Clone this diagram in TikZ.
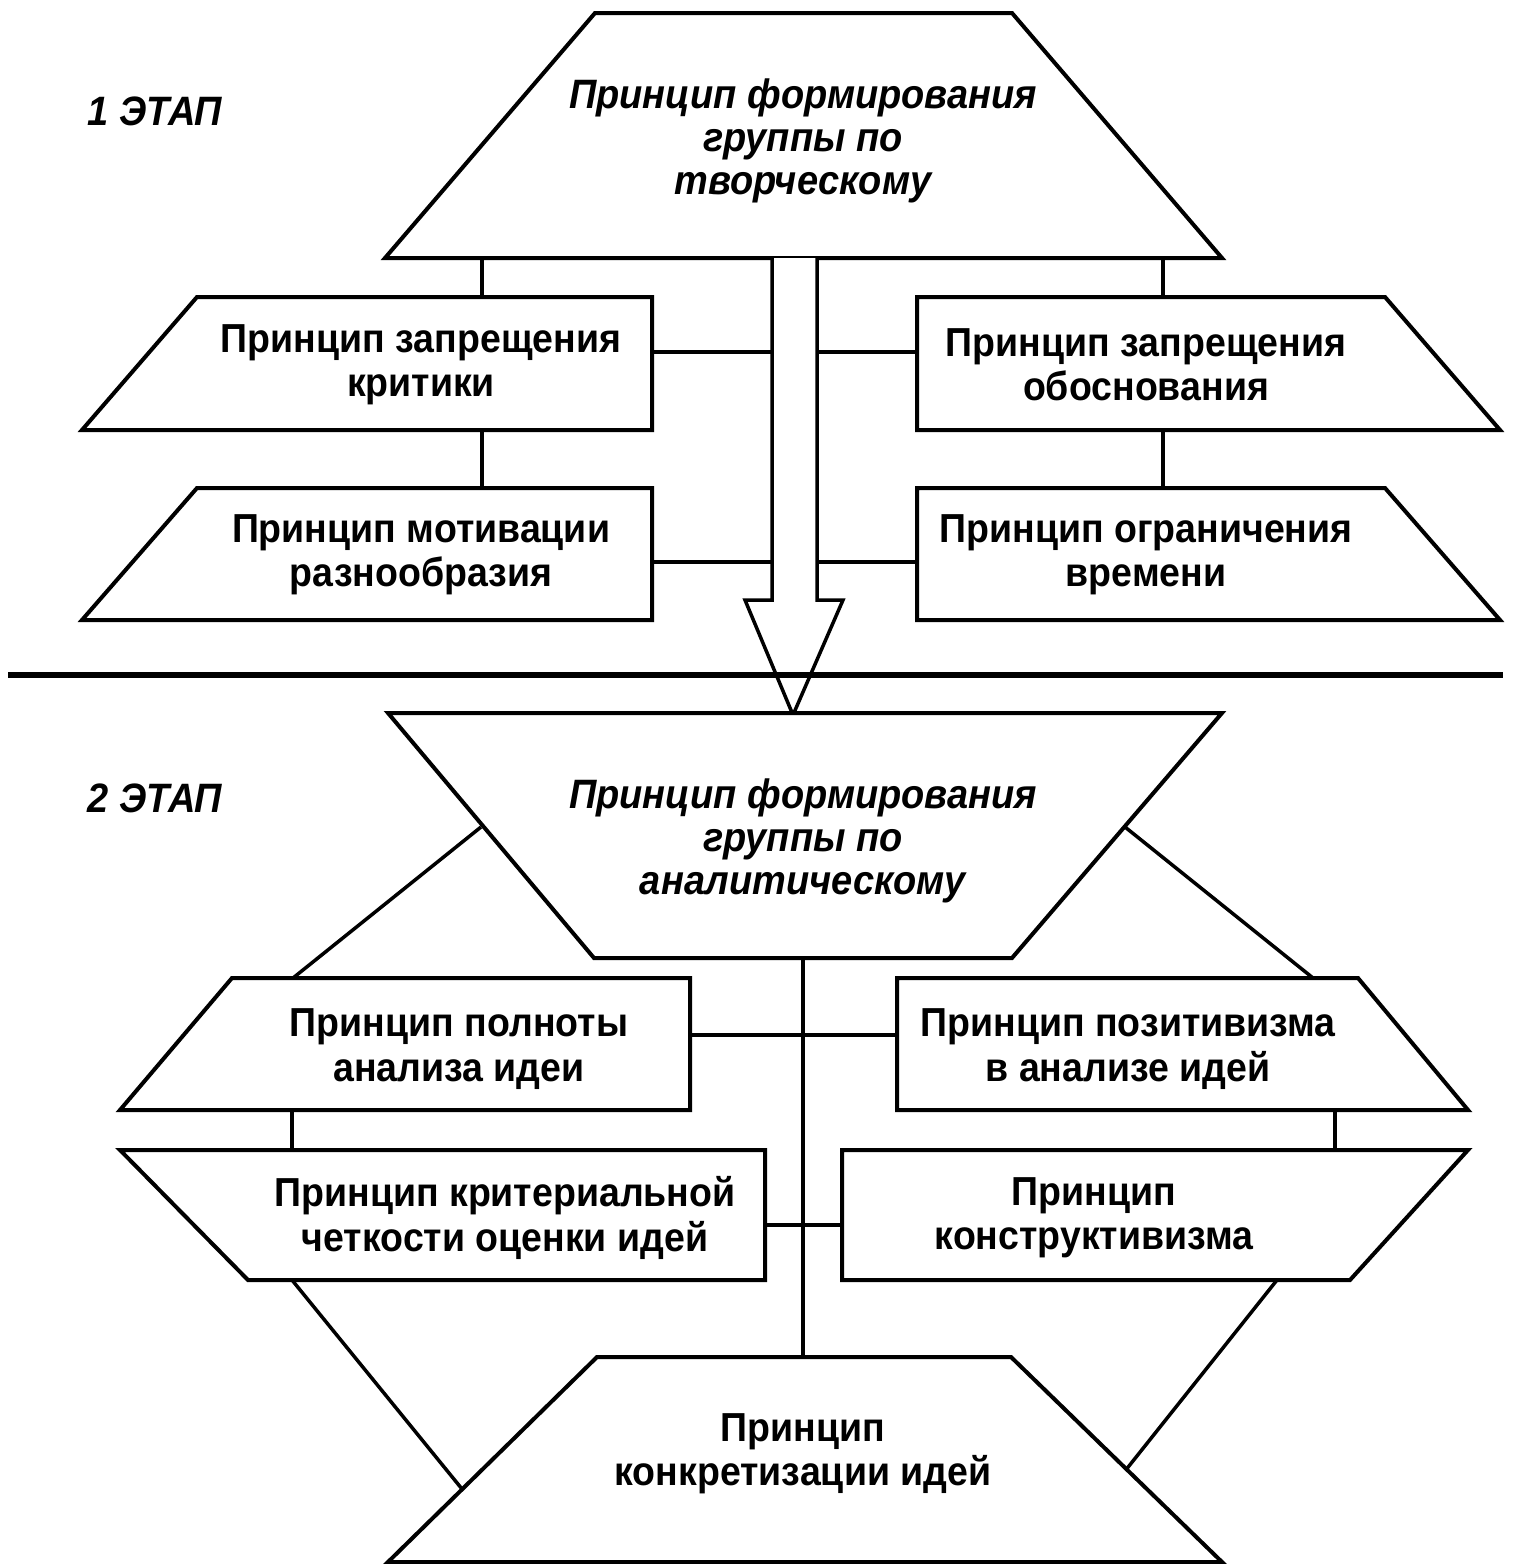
\documentclass[tikz,border=0pt]{standalone}
\usepackage{fontspec}
\setmainfont{Liberation Sans}
\begin{document}
\begin{tikzpicture}[x=1pt,y=-1pt,line join=miter,
  frame/.style={line width=4pt,fill=white},
  link/.style={line width=3.5pt},
  lbl/.style={font=\bfseries\fontsize{37.5}{41}\selectfont,align=center,inner sep=0pt,yscale=1.08},
  ilbl/.style={font=\bfseries\itshape\fontsize{38}{39.5}\selectfont,align=center,inner sep=0pt,yscale=1.08}]
\useasboundingbox[fill=white] (0,0) rectangle (1514,1564);

% ---------- stage 1 ----------
\node[ilbl] (stage1) at (155,111) {1 ЭТАП};

% connector end points
\coordinate (t1a) at (482,258);  \coordinate (l1top) at (482,297);
\coordinate (t1b) at (1163,258); \coordinate (r1top) at (1163,297);
\coordinate (l1bot) at (482,430); \coordinate (l2top) at (482,488);
\coordinate (r1bot) at (1163,430); \coordinate (r2top) at (1163,488);
\coordinate (l1r) at (652,352); \coordinate (arL1) at (772,352);
\coordinate (l2r) at (652,562); \coordinate (arL2) at (772,562);
\coordinate (r1l) at (917,352); \coordinate (arR1) at (817,352);
\coordinate (r2l) at (917,562); \coordinate (arR2) at (817,562);

\draw[link] (t1a) -- (l1top);
\draw[link] (t1b) -- (r1top);
\draw[link] (l1bot) -- (l2top);
\draw[link] (r1bot) -- (r2top);
\draw[link] (l1r) -- (arL1);
\draw[link] (l2r) -- (arL2);
\draw[link] (r1l) -- (arR1);
\draw[link] (r2l) -- (arR2);

% top trapezoid
\draw[frame] (595,13) -- (1012,13) -- (1222,258) -- (385,258) -- cycle;
\node[ilbl] (creative) at (803,141) {Принцип формирования\\группы по\\творческому};

% left boxes
\draw[frame] (197,297) -- (652,297) -- (652,430) -- (82,430) -- cycle;
\node[lbl] (critic) at (421,365) {Принцип запрещения\\критики};
\draw[frame] (197,488) -- (652,488) -- (652,620) -- (82,620) -- cycle;
\node[lbl] (motiv) at (421,555) {Принцип мотивации\\разнообразия};

% right boxes
\draw[frame] (917,297) -- (1385,297) -- (1500,430) -- (917,430) -- cycle;
\node[lbl] (justif) at (1146,365) {Принцип запрещения\\обоснования};
\draw[frame] (917,488) -- (1385,488) -- (1500,620) -- (917,620) -- cycle;
\node[lbl] (time) at (1146,555) {Принцип ограничения\\времени};

% block arrow between the stages
\draw[line width=3.5pt,fill=white] (772,258) -- (772,600) -- (745,600) -- (793,715)
  -- (843,600) -- (817,600) -- (817,258);

% stage separator
\draw[line width=5.5pt] (8,675) -- (1503,675);

% ---------- stage 2 ----------
\node[ilbl] (stage2) at (155,798) {2 ЭТАП};

\coordinate (t2l) at (481,827); \coordinate (a1tl) at (293,978);
\coordinate (t2r) at (1125,827); \coordinate (a2tr) at (1313,978);
\coordinate (t2bot) at (803,958); \coordinate (btop) at (803,1357);
\coordinate (a1r) at (690,1035); \coordinate (a2l) at (897,1035);
\coordinate (a1bot) at (292,1110); \coordinate (a3top) at (292,1150);
\coordinate (a2bot) at (1335,1110); \coordinate (a4top) at (1335,1150);
\coordinate (a3r) at (765,1225); \coordinate (a4l) at (842,1225);
\coordinate (a3bl) at (292,1280); \coordinate (bl) at (462,1489);
\coordinate (a4br) at (1277,1280); \coordinate (br) at (1125,1471);

\draw[link] (t2l) -- (a1tl);
\draw[link] (t2r) -- (a2tr);
\draw[link] (t2bot) -- (btop);
\draw[link] (a1r) -- (a2l);
\draw[link] (a1bot) -- (a3top);
\draw[link] (a2bot) -- (a4top);
\draw[link] (a3r) -- (a4l);
\draw[link] (a3bl) -- (bl);
\draw[link] (a4br) -- (br);

% inverted trapezoid
\draw[frame] (388,713) -- (1222,713) -- (1012,958) -- (594,958) -- cycle;
\node[ilbl] (analytic) at (803,841) {Принцип формирования\\группы по\\аналитическому};

% upper pair
\draw[frame] (232,978) -- (690,978) -- (690,1110) -- (120,1110) -- cycle;
\node[lbl] (complete) at (459,1049) {Принцип полноты\\анализа идеи};
\draw[frame] (897,978) -- (1358,978) -- (1468,1110) -- (897,1110) -- cycle;
\node[lbl] (positive) at (1128,1049) {Принцип позитивизма\\в анализе идей};

% lower pair
\draw[frame] (120,1150) -- (765,1150) -- (765,1280) -- (248,1280) -- cycle;
\node[lbl] (criteria) at (505,1218) {Принцип критериальной\\четкости оценки идей};
\draw[frame] (842,1150) -- (1468,1150) -- (1350,1280) -- (842,1280) -- cycle;
\node[lbl] (construct) at (1094,1218) {Принцип\\конструктивизма};

% bottom trapezoid
\draw[frame] (597,1357) -- (1011,1357) -- (1222,1562) -- (388,1562) -- cycle;
\node[lbl] (concrete) at (803,1454) {Принцип\\конкретизации идей};
\end{tikzpicture}
\end{document}
